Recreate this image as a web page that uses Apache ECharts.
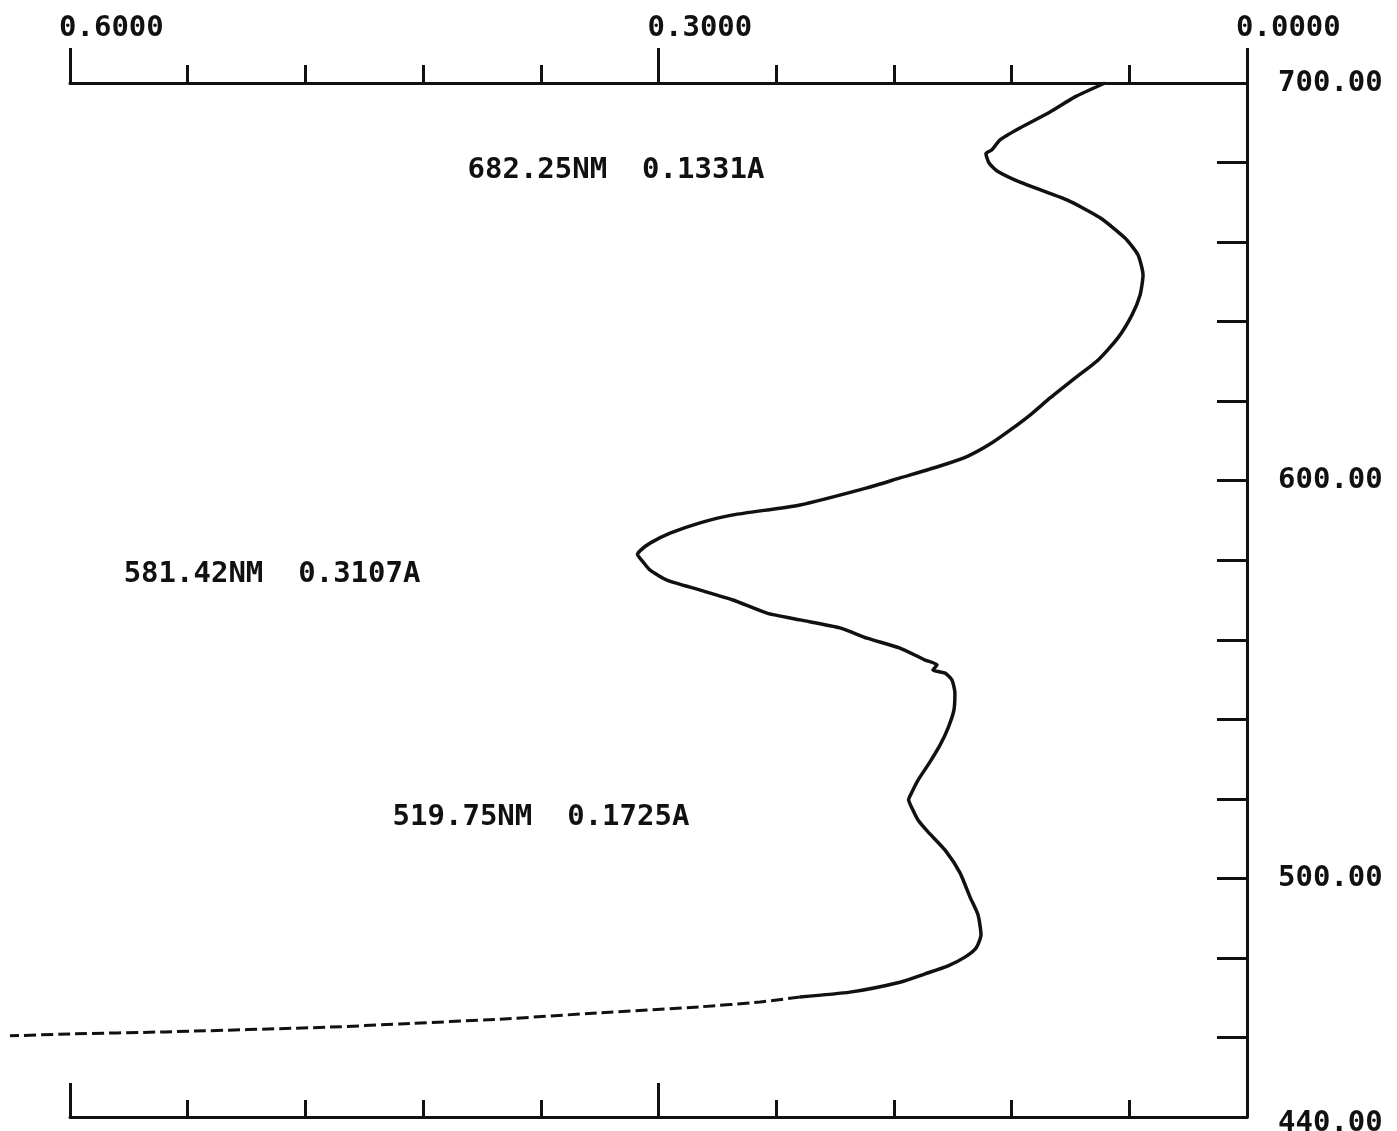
<!DOCTYPE html>
<html>
<head>
<meta charset="utf-8">
<script src="https://cdn.jsdelivr.net/npm/echarts@6/dist/echarts.min.js"></script>
<style>
  html, body { margin: 0; padding: 0; background: #ffffff; }
  #chart { width: 1397px; height: 1131px; }
</style>
</head>
<body>
<div id="chart"></div>
<script>
// Spectrum trace: wavelength (nm) vs absorbance (A)
var wavelength = [700.0, 696.5, 692.7, 688.7, 685.7, 683.2, 682.25, 679.9, 677.9, 675.1, 670.6, 666.1, 661.0, 656.8, 651.7, 646.7, 641.7, 635.9, 630.3, 625.8, 620.8, 616.5, 612.7, 609.2, 606.2, 603.7, 600.7, 598.2, 593.9, 591.4, 589.4, 586.8, 584.3, 582.6, 581.42, 579.6, 577.5, 575.0, 572.5, 570.0, 566.7, 565.0, 563.0, 560.4, 557.9, 554.9, 553.7, 552.4, 551.6, 549.9, 546.6, 542.3, 537.8, 533.5, 529.3, 524.7, 521.7, 519.75, 517.7, 514.7, 511.7, 507.1, 501.4, 495.3, 490.8, 485.8, 482.5, 480.2, 478.0, 476.0, 473.9, 471.4, 470.2, 468.9, 467.7, 466.2, 464.6, 463.4, 462.6, 461.4, 460.9, 460.4];
var absorbance = [0.0724, 0.0877, 0.1004, 0.1157, 0.1259, 0.1300, 0.1331, 0.1315, 0.1274, 0.1157, 0.0918, 0.0749, 0.0622, 0.0556, 0.0530, 0.0545, 0.0586, 0.0658, 0.0760, 0.0877, 0.1004, 0.1106, 0.1208, 0.1310, 0.1422, 0.1565, 0.1769, 0.1937, 0.2279, 0.2620, 0.2788, 0.2941, 0.3043, 0.3089, 0.3107, 0.3079, 0.3043, 0.2957, 0.2788, 0.2620, 0.2447, 0.2279, 0.2075, 0.1937, 0.1769, 0.1641, 0.1580, 0.1601, 0.1539, 0.1504, 0.1489, 0.1494, 0.1524, 0.1565, 0.1616, 0.1677, 0.1708, 0.1725, 0.1708, 0.1677, 0.1626, 0.1539, 0.1463, 0.1412, 0.1371, 0.1356, 0.1381, 0.1438, 0.1524, 0.1641, 0.1769, 0.2024, 0.2279, 0.2483, 0.2788, 0.3298, 0.3808, 0.4318, 0.4674, 0.5516, 0.6000, 0.6306];
// below this wavelength the plotter trace is broken (dashed)
var dashedBelowNm = 469.0;

// Peak annotations
var peakWavelength = [682.25, 581.42, 519.75];
var peakAbsorbance = [0.1331, 0.3107, 0.1725];
// anchor points of the annotation texts (data units)
var annotationAbs = [0.3217, 0.4970, 0.3599];
var annotationNm = [678.1, 576.5, 515.4];

// Axis labels
var xLabelValues = [0.6, 0.3, 0.0];
var yLabelValues = [700, 600, 500, 440];

var FONT = '"DejaVu Sans Mono", "Liberation Mono", monospace';
var CHART_W = 1397, GRID_LEFT = 70, GRID_RIGHT = 150, GRID_TOP = 83, GRID_BOTTOM = 14;
var X_MAX = 0.6;
// a hidden full-width axis with the same scale lets the tail run past 0.6000
var plotRight = CHART_W - GRID_RIGHT;
var overflowAxisMax = X_MAX * plotRight / (plotRight - GRID_LEFT);

var solidPts = [], dashedPts = [];
for (var i = 0; i < wavelength.length; i++) {
  var p = [absorbance[i], wavelength[i]];
  if (wavelength[i] >= dashedBelowNm) solidPts.push(p);
  else dashedPts.push(p);
}
if (solidPts.length) dashedPts.unshift(solidPts[solidPts.length - 1]);

var annData = [];
for (var k = 0; k < peakWavelength.length; k++) {
  annData.push({
    value: [annotationAbs[k], annotationNm[k]],
    name: peakWavelength[k].toFixed(2) + 'NM  ' + peakAbsorbance[k].toFixed(4) + 'A'
  });
}

function isLabel(v, list) {
  for (var j = 0; j < list.length; j++) if (Math.abs(v - list[j]) < 1e-6) return true;
  return false;
}

var INK = '#111';
var axisLineStyle = { color: INK, width: 3 };

var chart = echarts.init(document.getElementById('chart'), null, { renderer: 'canvas' });
chart.setOption({
  animation: false,
  backgroundColor: '#ffffff',
  grid: [
    { left: GRID_LEFT, right: GRID_RIGHT, top: GRID_TOP, bottom: GRID_BOTTOM, containLabel: false, outerBoundsMode: 'none' },
    { left: 0, right: GRID_RIGHT, top: GRID_TOP, bottom: GRID_BOTTOM, containLabel: false, outerBoundsMode: 'none' }
  ],
  xAxis: [
    {
      type: 'value', gridIndex: 0, position: 'top', min: 0, max: X_MAX, interval: 0.3, inverse: true,
      axisLine: { show: true, lineStyle: axisLineStyle },
      axisTick: { show: true, inside: false, length: 35, lineStyle: axisLineStyle },
      minorTick: { show: true, splitNumber: 5, length: 18, lineStyle: axisLineStyle },
      splitLine: { show: false }, minorSplitLine: { show: false },
      axisLabel: {
        show: true, margin: 40, align: 'left', padding: [0, 0, 0, -11],
        color: INK, fontFamily: FONT, fontSize: 29, fontWeight: 'bold',
        formatter: function (v) { return isLabel(v, xLabelValues) ? v.toFixed(4) : ''; }
      }
    },
    {
      type: 'value', gridIndex: 0, position: 'bottom', min: 0, max: X_MAX, interval: 0.3, inverse: true,
      axisLine: { show: true, lineStyle: axisLineStyle },
      axisTick: { show: true, inside: true, length: 34, lineStyle: axisLineStyle },
      minorTick: { show: true, splitNumber: 5, length: 17, lineStyle: axisLineStyle },
      splitLine: { show: false }, minorSplitLine: { show: false },
      axisLabel: { show: false }
    },
    {
      type: 'value', gridIndex: 1, min: 0, max: overflowAxisMax, inverse: true, show: false,
      splitLine: { show: false }
    }
  ],
  yAxis: [
    {
      type: 'value', gridIndex: 0, position: 'right', min: 440, max: 700, interval: 20,
      axisLine: { show: true, lineStyle: axisLineStyle },
      axisTick: { show: true, inside: true, length: 30, lineStyle: axisLineStyle },
      splitLine: { show: false },
      axisLabel: {
        show: true, margin: 31, color: INK, fontFamily: FONT, fontSize: 29, fontWeight: 'bold',
        showMinLabel: true, showMaxLabel: true,
        formatter: function (v) {
          if (!isLabel(v, yLabelValues)) return '';
          return v === 440 ? '{low|' + v.toFixed(2) + '}' : v.toFixed(2);
        },
        rich: { low: { padding: [12, 0, 0, 0], color: INK, fontFamily: FONT, fontSize: 29, fontWeight: 'bold' } }
      }
    },
    {
      type: 'value', gridIndex: 1, min: 440, max: 700, show: false, splitLine: { show: false }
    }
  ],
  series: [
    {
      name: 'trace', type: 'line', xAxisIndex: 0, yAxisIndex: 0, data: solidPts,
      showSymbol: false, symbol: 'none', clip: false, smooth: 0.2,
      lineStyle: { color: INK, width: 3.5 }
    },
    {
      name: 'trace tail', type: 'line', xAxisIndex: 2, yAxisIndex: 1, data: dashedPts,
      showSymbol: false, symbol: 'none', clip: false, smooth: 0.2,
      lineStyle: { color: INK, width: 3, type: [12, 5] }
    },
    {
      name: 'annotations', type: 'scatter', xAxisIndex: 0, yAxisIndex: 0, data: annData,
      symbol: 'circle', symbolSize: 1, itemStyle: { color: '#ffffff', opacity: 1 }, silent: true,
      label: {
        show: true, position: 'inside', formatter: '{b}',
        color: INK, fontFamily: FONT, fontSize: 29, fontWeight: 'bold',
        textBorderWidth: 0, textBorderColor: 'transparent', opacity: 1
      }
    }
  ]
});
</script>
</body>
</html>
